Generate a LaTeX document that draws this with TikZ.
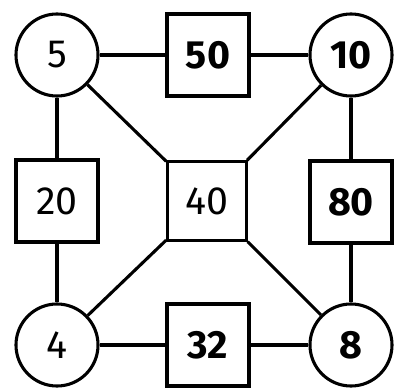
\documentclass[tikz,border=0pt]{standalone}
\usepackage{fontspec}
\setmainfont{Fira Sans}
\tikzset{
	num/.style={line width=2.2pt, inner sep=0pt, font=\fontsize{28}{32}\selectfont},
	ring/.style={num, circle, draw, minimum size=2.05cm},
	cell/.style={num, rectangle, draw, minimum size=2.05cm},
	link/.style={line width=2.2pt}
}

\begin{document}
\begin{tikzpicture}[x=0.025cm, y=-0.025cm]
		%%%%% START %%%%%
		\useasboundingbox (0, 0) rectangle (396, 388);
		
		\node[ring] (c5) at (57, 55) {5};
		\node[cell] (s50) at (208, 55) {\bfseries 50};
		\node[ring] (c10) at (351, 55) {\bfseries 10};
		
		\node[cell] (s20) at (57, 201) {20};
		\node[cell, minimum size=1.96cm] (s40) at (207, 201) {40};
		\node[cell] (s80) at (351, 202) {\bfseries 80};
		
		\node[ring] (c4) at (57, 345) {4};
		\node[cell] (s32) at (208, 345) {\bfseries 32};
		\node[ring] (c8) at (351, 345) {\bfseries 8};
		
		\draw[link] (c5) -- (s50) -- (c10);
		\draw[link] (c5) -- (s20) -- (c4);
		\draw[link] (c4) -- (s32) -- (c8);
		\draw[link] (c10) -- (s80) -- (c8);
		
		\draw[link] (c5) -- (s40);
		\draw[link] (c10) -- (s40);
		\draw[link] (c4) -- (s40);
		\draw[link] (c8) -- (s40);
		%%%%% END %%%%%
\end{tikzpicture}
\end{document}
